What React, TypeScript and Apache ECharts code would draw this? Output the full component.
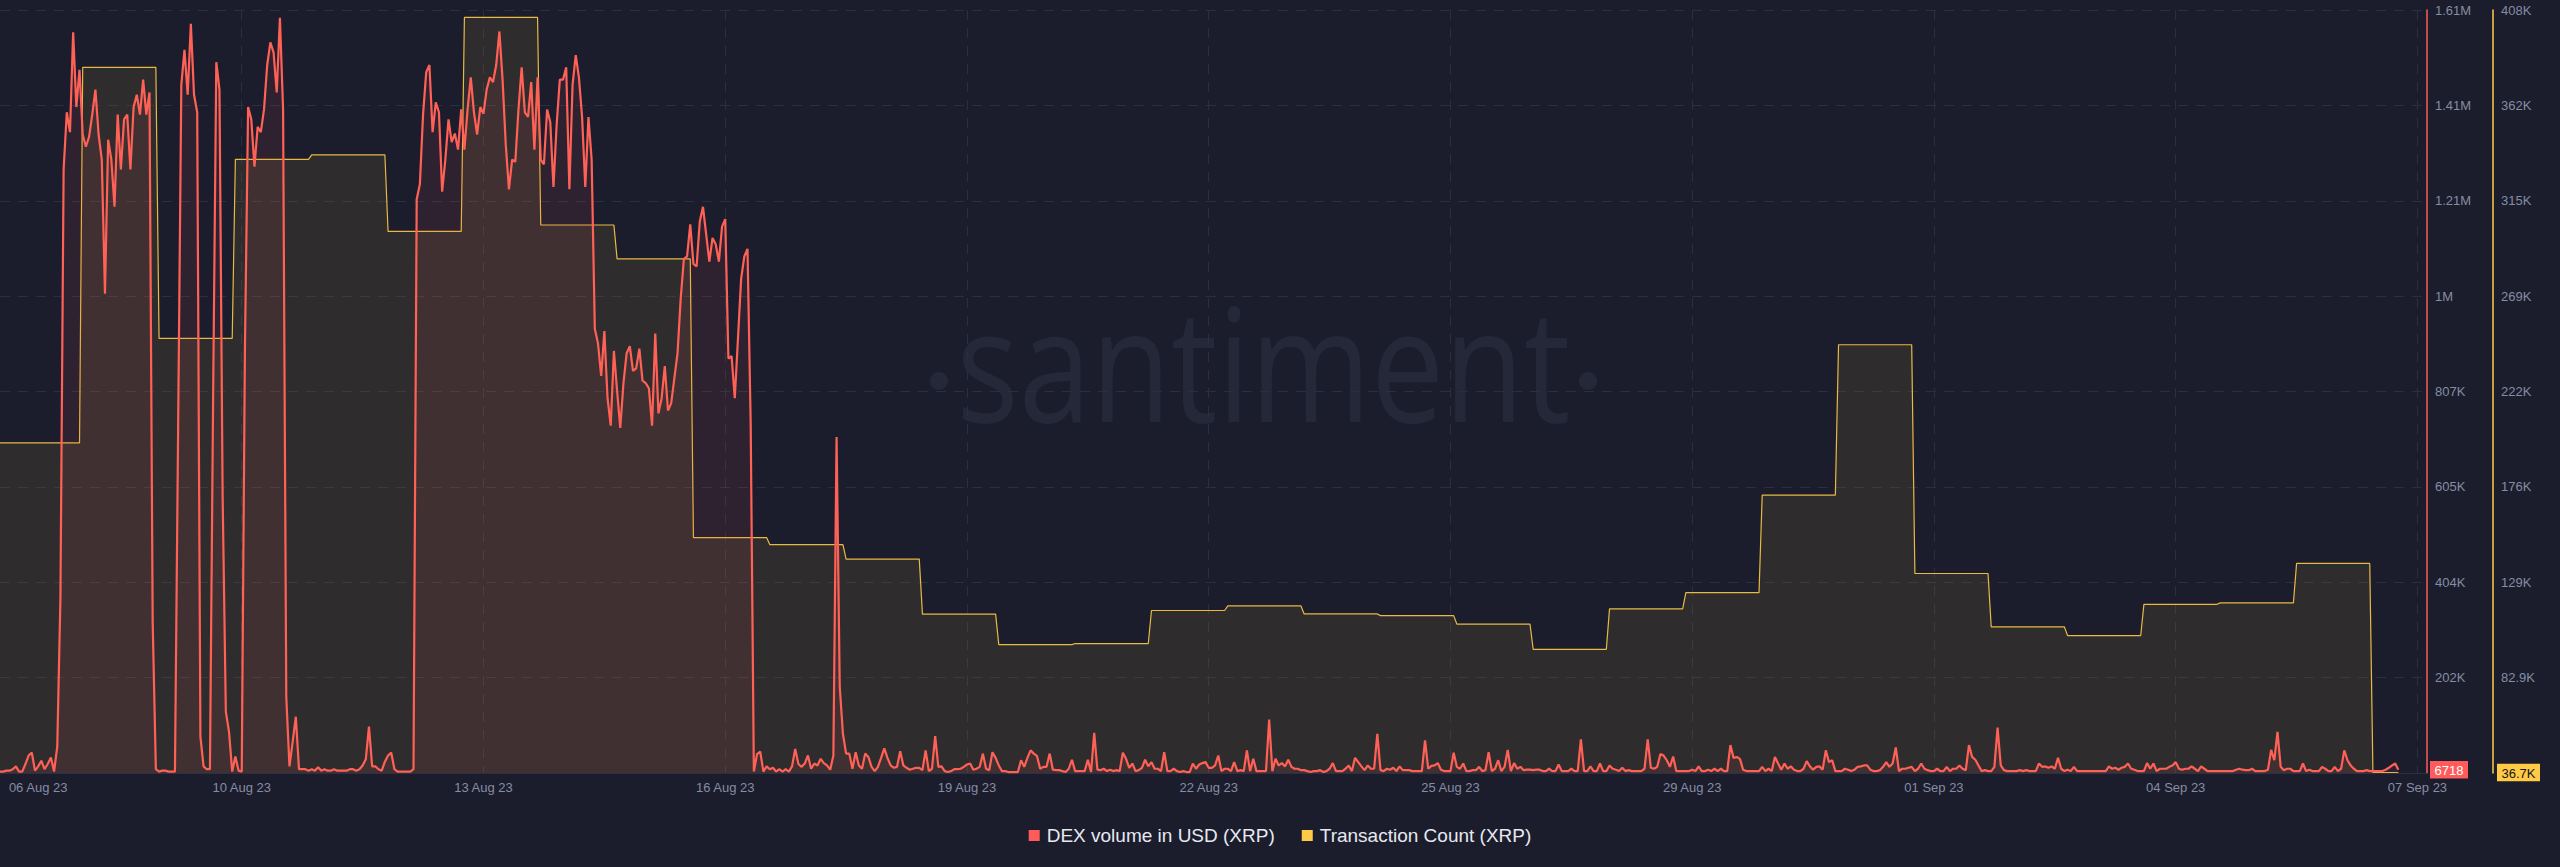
import React, { useEffect, useRef } from "react";
import * as echarts from "echarts";

// ---- DEX volume in USD (XRP), hourly, in thousands of USD ----
const dexAug05to10 = [
  3, 3, 5, 5, 8, 14, 3, 3, 19, 37,
  43, 5, 14, 26, 8, 19, 33, 3, 56, 372,
  1277, 1398, 1356, 1567, 1409, 1488, 1351, 1325, 1346, 1393,
  1446, 1351, 1298, 1014, 1340, 1298, 1198, 1393, 1277, 1383,
  1393, 1277, 1409, 1435, 1393, 1467, 1393, 1440, 319, 8,
  3, 5, 5, 3, 3, 3, 730, 1456, 1530, 1435,
  1585, 1435, 1398, 77, 14, 8, 8, 793, 1504, 1446,
  582, 130, 87, 3, 35, 5, 3, 898, 1409, 1383,
  1283, 1367, 1356, 1404, 1498, 1546, 1525, 1440, 1598, 1404,
  161, 14, 66, 119, 8, 8, 8, 5, 8, 5,
  12, 5, 8, 5, 5, 8, 5, 5, 5, 5,
  8, 8, 5, 8, 16, 29, 98, 14, 14, 8,
  5, 24, 37, 43, 8, 3,
];
const dexAug10to16 = [
  3, 3, 3, 3,
  8, 1214, 1246, 1393, 1483, 1498, 1356, 1419, 1398, 1230,
  1298, 1383, 1335, 1353, 1319, 1404, 1319, 1404, 1472, 1398,
  1351, 1409, 1395, 1446, 1472, 1462, 1498, 1569, 1467, 1330,
  1235, 1298, 1293, 1404, 1493, 1398, 1388, 1462, 1319, 1472,
  1298, 1288, 1404, 1377, 1240, 1372, 1467, 1467, 1493, 1235,
  1456, 1519, 1472, 1388, 1240, 1388, 1298, 940, 909, 840,
  935, 793, 735, 893, 809, 730, 825, 888, 903, 851,
  856, 898, 830, 825, 814, 735, 930, 761, 793, 861,
  767, 782, 835, 888, 1004, 1088, 1093, 1161, 1077, 1072,
  1167, 1198, 1140, 1082, 1132, 1119, 1082, 1156, 1172, 877,
  882, 793, 919, 1046, 1093, 1109, 740, 3, 40, 45,
  3, 14, 8, 11, 3, 8, 3, 8, 3, 14,
  51, 19,
];
const dexAug16to23 = [
  13, 20, 37, 9, 20, 16, 30, 21, 16, 7,
  37, 711, 182, 83, 41, 41, 9, 44, 16, 9,
  41, 34, 13, 4, 13, 32, 52, 32, 16, 11,
  13, 46, 16, 11, 7, 9, 11, 11, 6, 48,
  4, 9, 78, 13, 14, 4, 2, 4, 8, 8,
  9, 13, 18, 20, 7, 9, 13, 41, 9, 6,
  44, 32, 16, 4, 4, 2, 2, 2, 2, 27,
  13, 32, 48, 41, 36, 9, 13, 13, 41, 7,
  6, 6, 4, 2, 9, 28, 4, 4, 4, 4,
  28, 2, 85, 7, 6, 9, 4, 7, 4, 6,
  4, 43, 30, 11, 20, 4, 6, 11, 28, 14,
  23, 9, 9, 4, 44, 4, 4, 9, 4, 2,
  4, 2, 2, 20, 9, 18, 21, 23, 11, 11,
  16, 37, 4, 9, 9, 4, 23, 4, 6, 4,
  48, 4, 30, 4, 4, 4, 4, 113, 4, 30,
  16, 21, 14, 28, 13, 9, 9, 6, 6, 4,
  2, 4, 4, 6, 2, 4, 9, 21, 4, 4,
];
const dexAug23to30 = [
  4, 9, 16, 4, 32, 23, 14, 6, 16, 9,
  9, 83, 6, 4, 9, 7, 11, 4, 14, 6,
  6, 6, 4, 4, 4, 4, 69, 9, 15, 16,
  21, 7, 4, 4, 4, 43, 13, 9, 20, 4,
  4, 6, 6, 13, 4, 6, 44, 4, 9, 27,
  4, 13, 49, 4, 21, 9, 13, 6, 7, 7,
  6, 7, 7, 4, 4, 9, 4, 4, 18, 4,
  4, 4, 9, 4, 4, 71, 4, 4, 14, 4,
  4, 20, 4, 4, 16, 9, 7, 4, 11, 4,
  6, 4, 4, 4, 4, 9, 71, 11, 9, 13,
  40, 37, 27, 13, 35, 4, 4, 4, 4, 4,
  7, 4, 14, 4, 4, 7, 4, 9, 4, 9,
  4, 4, 59, 32, 34, 30, 7, 4, 4, 4,
  4, 4, 13, 4, 9, 4, 34, 20, 7, 20,
  9, 14, 7, 4, 4, 9, 25, 14, 7, 13,
  14, 7, 48, 23, 27, 4, 4, 4, 9, 7,
  4, 7, 13, 14, 16, 16, 7, 4, 4, 6,
];
const dexAug30toSep06 = [
  13, 23, 13, 20, 54, 4, 9, 9, 11, 13,
  4, 9, 20, 9, 6, 4, 4, 9, 4, 4,
  13, 4, 9, 9, 16, 9, 6, 59, 34, 28,
  16, 4, 6, 4, 4, 13, 96, 16, 6, 4,
  4, 4, 4, 6, 4, 6, 4, 4, 4, 20,
  13, 14, 11, 14, 9, 32, 9, 4, 7, 4,
  13, 4, 4, 4, 4, 4, 4, 4, 4, 4,
  4, 14, 9, 11, 7, 11, 13, 20, 9, 7,
  4, 4, 4, 21, 9, 20, 4, 9, 9, 9,
  13, 16, 23, 9, 7, 9, 9, 14, 9, 4,
  14, 9, 4, 4, 4, 4, 4, 4, 4, 4,
  4, 7, 9, 7, 6, 6, 9, 4, 4, 4,
  4, 7, 49, 27, 87, 13, 6, 9, 9, 4,
  4, 4, 20, 4, 7, 4, 4, 4, 13, 9,
  4, 4, 13, 4, 9, 48, 27, 16, 9, 4,
  4, 4, 6, 4, 4, 4, 4, 4, 7, 11,
  16, 20,
];
const dexLatest = [6.718];

// ---- Transaction Count (XRP), daily, in thousands ----
const txDailyK = [
  197.2, 380.1, 248.1, 335.3, 337.5, 300.2, 404.4, 303.3, 286.8, 151.1,
  147.7, 140.6, 113.8, 99.0, 99.5, 115.6, 117.8, 113.9, 113.1, 109.0,
  96.7, 116.4, 124.3, 171.8, 245.0, 133.6, 107.6, 103.4, 118.6, 119.3,
  138.5, 36.7,
];

// ---- axes ----
const xTickLabels = [
  { index: 12, text: "06 Aug 23" },
  { index: 76, text: "10 Aug 23" },
  { index: 152, text: "13 Aug 23" },
  { index: 228, text: "16 Aug 23" },
  { index: 304, text: "19 Aug 23" },
  { index: 380, text: "22 Aug 23" },
  { index: 456, text: "25 Aug 23" },
  { index: 532, text: "29 Aug 23" },
  { index: 608, text: "01 Sep 23" },
  { index: 684, text: "04 Sep 23" },
  { index: 760, text: "07 Sep 23" },
];
const dexAxisLabels = ["", "202K", "404K", "605K", "807K", "1M", "1.21M", "1.41M", "1.61M"];
const txAxisLabels = ["", "82.9K", "129K", "176K", "222K", "269K", "315K", "362K", "408K"];

const DEX_MAX = 1614.4;
const DEX_INTERVAL = DEX_MAX / 8;
const TX_MIN = 36.46;
const TX_MAX = 408;
const TX_INTERVAL = (TX_MAX - TX_MIN) / 8;
const HOUR_COUNT = 764; // hourly slots on the axis
const FIRST_DAY_HOURS = 26; // first (partial) day spans hours 0..25

const DEX_NAME = "DEX volume in USD (XRP)";
const TX_NAME = "Transaction Count (XRP)";

const BG = "#1b1d2c";
const GRID_COLOR = "#2a2e40";
const LABEL_COLOR = "#868ca3";
const RED = "#ff5b5b";
const YELLOW = "#ffcb47";
const FONT = "'Liberation Sans', Arial, sans-serif";

const dexVolumeK = [
  ...dexAug05to10,
  ...dexAug10to16,
  ...dexAug16to23,
  ...dexAug23to30,
  ...dexAug30toSep06,
  ...dexLatest,
];

const txHourlyK = dexVolumeK.map((_, i) => {
  const day = i < FIRST_DAY_HOURS ? 0 : Math.floor((i - 2) / 24);
  return txDailyK[Math.min(day, txDailyK.length - 1)];
});

const categories = Array.from({ length: HOUR_COUNT }, (_, i) => String(i));
const tickMap = new Map(xTickLabels.map((t) => [t.index, t.text]));
const splitSet = new Set(xTickLabels.slice(1).map((t) => t.index));

export default function App() {
  const ref = useRef<HTMLDivElement>(null);

  useEffect(() => {
    if (!ref.current) return;
    const chart = echarts.init(ref.current, undefined, { renderer: "svg" });
    const GRID_RIGHT = 133;
    chart.setOption({
      animation: false,
      backgroundColor: BG,
      grid: { left: 0, right: GRID_RIGHT, top: 10, bottom: 94, containLabel: false },
      legend: {
        data: [DEX_NAME, TX_NAME],
        left: "center",
        top: 821,
        icon: "rect",
        itemWidth: 11,
        itemHeight: 11,
        itemGap: 27,
        textStyle: { color: "#e7e9f0", fontSize: 19, fontFamily: FONT, padding: [0, 0, 0, 2] },
      },
      xAxis: {
        type: "category",
        data: categories,
        boundaryGap: false,
        axisLine: { show: true, lineStyle: { color: "#2c3044", width: 1 } },
        axisTick: { show: false },
        axisLabel: {
          interval: (i: number) => tickMap.has(i),
          formatter: (_v: string, i: number) => tickMap.get(i) ?? "",
          color: LABEL_COLOR,
          fontSize: 13,
          fontFamily: FONT,
          margin: 8,
        },
        splitLine: {
          show: true,
          interval: (i: number) => splitSet.has(i),
          lineStyle: { color: GRID_COLOR, type: [10, 8], width: 1 },
        },
      },
      yAxis: [
        {
          type: "value",
          position: "right",
          min: 0,
          max: DEX_MAX,
          interval: DEX_INTERVAL,
          axisLine: { show: true, lineStyle: { color: RED, width: 1.5 } },
          axisTick: { show: false },
          axisLabel: {
            color: LABEL_COLOR,
            fontSize: 13,
            fontFamily: FONT,
            margin: 8,
            formatter: (v: number) => dexAxisLabels[Math.round(v / DEX_INTERVAL)] ?? "",
          },
          splitLine: { show: true, lineStyle: { color: GRID_COLOR, type: [10, 8], width: 1 } },
        },
        {
          type: "value",
          position: "right",
          offset: 66,
          min: TX_MIN,
          max: TX_MAX,
          interval: TX_INTERVAL,
          axisLine: { show: true, lineStyle: { color: YELLOW, width: 1.5 } },
          axisTick: { show: false },
          axisLabel: {
            color: LABEL_COLOR,
            fontSize: 13,
            fontFamily: FONT,
            margin: 8,
            formatter: (v: number) => txAxisLabels[Math.round((v - TX_MIN) / TX_INTERVAL)] ?? "",
          },
          splitLine: { show: false },
        },
      ],
      series: [
        {
          name: TX_NAME,
          type: "line",
          yAxisIndex: 1,
          data: txHourlyK,
          showSymbol: false,
          symbol: "none",
          itemStyle: { color: YELLOW },
          lineStyle: { color: "#e8b943", width: 1.2 },
          areaStyle: { color: "rgba(255,203,71,0.13)", origin: "start" },
          z: 2,
        },
        {
          name: DEX_NAME,
          type: "line",
          yAxisIndex: 0,
          data: dexVolumeK,
          showSymbol: false,
          symbol: "none",
          itemStyle: { color: RED },
          lineStyle: { color: "#ff6157", width: 2.2 },
          areaStyle: { color: "rgba(255,91,91,0.13)", origin: "start" },
          z: 3,
        },
      ],
    });

    const axisX = chart.getWidth() - GRID_RIGHT;
    const lastDex = dexVolumeK[dexVolumeK.length - 1];
    const lastTx = txHourlyK[txHourlyK.length - 1];
    const yDex = chart.convertToPixel({ yAxisIndex: 0 }, lastDex) as unknown as number;
    const yTx = chart.convertToPixel({ yAxisIndex: 1 }, lastTx) as unknown as number;
    const dexText = String(Math.round(lastDex * 1000));
    const txText = lastTx.toFixed(1) + "K";

    chart.setOption({
      graphic: [
        {
          id: "wm-text",
          type: "text",
          x: 1263.5,
          y: 361,
          scaleX: 0.83,
          z: -1,
          silent: true,
          style: {
            text: "santiment",
            x: 0,
            y: 0,
            fill: "#242838",
            fontSize: 157,
            fontFamily: "'Open Sans', sans-serif",
            align: "center",
            verticalAlign: "middle",
          },
        },
        { id: "wm-dot1", type: "circle", z: -1, silent: true, shape: { cx: 939, cy: 381, r: 9 }, style: { fill: "#242838" } },
        { id: "wm-dot2", type: "circle", z: -1, silent: true, shape: { cx: 1588, cy: 381, r: 9 }, style: { fill: "#242838" } },
        {
          id: "badge-dex",
          type: "group",
          x: axisX + 3,
          y: yDex,
          z: 100,
          children: [
            { type: "rect", shape: { x: 0, y: -8.8, width: 38, height: 17.6 }, style: { fill: RED } },
            {
              type: "text",
              style: { text: dexText, x: 19, y: 0.5, fill: "#ffffff", fontSize: 13, fontFamily: FONT, align: "center", verticalAlign: "middle" },
            },
          ],
        },
        {
          id: "badge-tx",
          type: "group",
          x: axisX + 66 + 4,
          y: yTx,
          z: 100,
          children: [
            { type: "rect", shape: { x: 0, y: -8.7, width: 43, height: 17.4 }, style: { fill: YELLOW } },
            {
              type: "text",
              style: { text: txText, x: 21.5, y: 0.5, fill: "#151515", fontSize: 13, fontFamily: FONT, align: "center", verticalAlign: "middle" },
            },
          ],
        },
      ],
    });

    return () => chart.dispose();
  }, []);

  return (
    <div
      ref={ref}
      style={{ position: "fixed", left: 0, top: 0, width: 2560, height: 867, background: BG }}
    />
  );
}
